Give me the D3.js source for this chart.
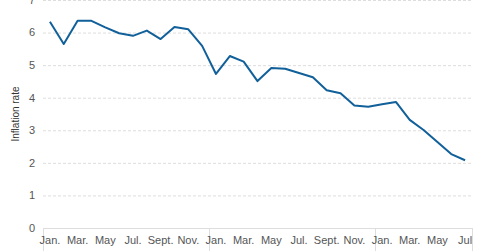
<!DOCTYPE html>
<html lang="en">

<head>
    <meta charset="UTF-8">
    <title>Inflation rate</title>
    <script src="https://d3js.org/d3.v7.min.js"></script>
    <style>
        body {
            margin: 0;
            background: #fff;
        }

        text {
            font-family: "Liberation Sans", Arial, sans-serif;
            fill: #555;
        }
    </style>
</head>

<body>
    <svg width="480" height="251"></svg>

    <script>
        // monthly categories, three years (last one up to July)
        const months = [
            "Jan.", "Feb.", "Mar.", "Apr.", "May", "Jun.", "Jul.", "Aug.", "Sept.", "Oct.", "Nov.", "Dec.",
            "Jan.", "Feb.", "Mar.", "Apr.", "May", "Jun.", "Jul.", "Aug.", "Sept.", "Oct.", "Nov.", "Dec.",
            "Jan.", "Feb.", "Mar.", "Apr.", "May", "Jun.", "Jul"
        ];
        const rates = [
            6.33, 5.65, 6.36, 6.36, 6.16, 5.98, 5.90, 6.06, 5.80, 6.17, 6.10, 5.59,
            4.73, 5.28, 5.11, 4.51, 4.91, 4.89, 4.76, 4.63, 4.23, 4.14, 3.76, 3.72,
            3.80, 3.87, 3.32, 3.01, 2.64, 2.27, 2.08
        ];
        const yTicks = [0, 1, 2, 3, 4, 5, 6, 7];
        const yearStarts = [0, 12, 24];

        const width = 480;
        const height = 251;
        const margin = { top: 0, right: 8, bottom: 23, left: 43 };

        const svg = d3.select("svg");

        const idx = d3.range(months.length);
        const x = d3.scaleBand()
            .domain(idx)
            .range([margin.left, width - margin.right]);

        const y = d3.scaleLinear()
            .domain([0, 7])
            .range([height - margin.bottom, margin.top]);

        // grid lines
        svg.append("g")
            .selectAll("line")
            .data(yTicks.filter(d => d > 0))
            .join("line")
            .attr("x1", margin.left)
            .attr("x2", width - margin.right)
            .attr("y1", d => y(d) + 0.5)
            .attr("y2", d => y(d) + 0.5)
            .attr("stroke", "#ddd")
            .attr("stroke-dasharray", "3,2");

        // y labels
        svg.append("g")
            .selectAll("text")
            .data(yTicks)
            .join("text")
            .attr("x", 35)
            .attr("y", d => y(d))
            .attr("dy", "0.35em")
            .attr("text-anchor", "end")
            .style("font-size", "11px")
            .text(d => d);

        svg.append("text")
            .attr("transform", `translate(19,${y(3.5)}) rotate(-90)`)
            .attr("text-anchor", "middle")
            .style("font-size", "10px")
            .style("fill", "#333")
            .text("Inflation rate");

        // x axis
        const xAxis = svg.append("g");
        xAxis.append("line")
            .attr("x1", margin.left)
            .attr("x2", width - margin.right)
            .attr("y1", y(0) + 0.5)
            .attr("y2", y(0) + 0.5)
            .attr("stroke", "#ddd");

        const seps = yearStarts.map(i => x(i)).concat([width - margin.right]);
        xAxis.selectAll(".sep")
            .data(seps)
            .join("line")
            .attr("class", "sep")
            .attr("x1", d => Math.round(d) + 0.5)
            .attr("x2", d => Math.round(d) + 0.5)
            .attr("y1", y(0))
            .attr("y2", height)
            .attr("stroke", "#ddd");

        xAxis.selectAll(".mlab")
            .data(idx.filter(i => i % 2 === 0))
            .join("text")
            .attr("class", "mlab")
            .attr("x", i => x(i) + x.bandwidth() / 2)
            .attr("y", height - 7)
            .attr("text-anchor", "middle")
            .style("font-size", "11px")
            .text(i => months[i]);

        // the series
        const line = d3.line()
            .x((d, i) => x(i) + x.bandwidth() / 2)
            .y(d => y(d));

        svg.append("path")
            .datum(rates)
            .attr("fill", "none")
            .attr("stroke", "#11609a")
            .attr("stroke-width", 2)
            .attr("stroke-linejoin", "round")
            .attr("d", line);
    </script>
</body>

</html>
